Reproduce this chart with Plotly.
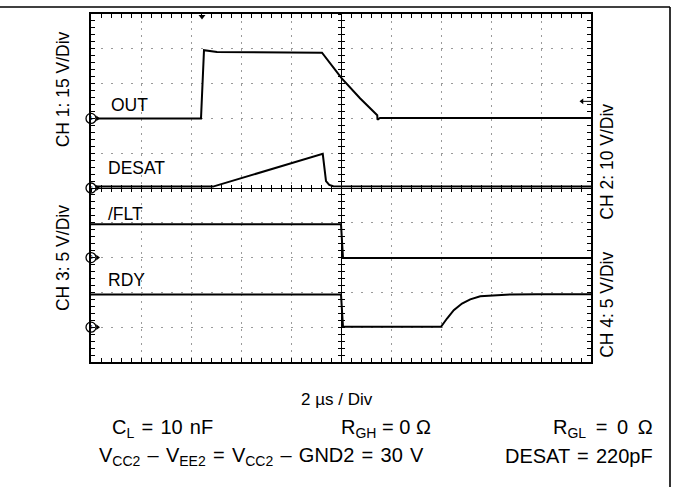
import plotly.graph_objects as go

# ---------------- data (time in µs, level in screen divisions) ----------------
out_t = [0.0, 4.40, 4.52, 5.04, 9.24, 10.03, 10.76, 11.23, 11.45, 11.46, 11.56, 20.0]
out_v = [7.0, 7.0, 8.96, 8.91, 8.89, 8.15, 7.58, 7.25, 7.09, 6.96, 7.01, 7.01]

desat_t = [0.0, 4.88, 9.27, 9.40, 9.53, 9.69, 20.0]
desat_v = [5.04, 5.04, 5.98, 5.20, 5.09, 5.05, 5.04]

flt_t = [0.0, 10.0, 10.08, 20.0]
flt_v = [3.96, 3.96, 2.99, 2.99]

rdy_t = [0.0, 10.0, 10.08, 14.0, 14.24, 14.51, 14.84, 15.17, 15.57, 16.11, 16.77, 17.84, 20.0]
rdy_v = [1.94, 1.94, 1.01, 1.01, 1.25, 1.49, 1.68, 1.80, 1.89, 1.92, 1.94, 1.95, 1.95]

ch_ref_levels = [7, 5, 3, 1]
ch_ref_names = ["1", "2", "3", "4"]
trigger_time = 4.44
trigger_level = 7.49

trace_labels = ["OUT", "DESAT", "/FLT", "RDY"]
axis_labels = ["CH 1: 15 V/Div", "CH 3: 5 V/Div", "CH 2: 10 V/Div", "CH 4: 5 V/Div"]

# ---------------- geometry helpers ----------------
W, H = 677, 487
L, R, T, B = 91, 591, 12, 362
def px(x):
    return (x - L) / (R - L)
def py(y):
    return (B - y) / (B - T)

FONT = "Liberation Sans, Arial, Helvetica, sans-serif"
fig = go.Figure()

line_style = dict(color="black", width=2)
for t, v in [(out_t, out_v), (desat_t, desat_v), (flt_t, flt_v), (rdy_t, rdy_v)]:
    fig.add_trace(go.Scatter(x=t, y=v, mode="lines", line=line_style,
                             hoverinfo="skip", showlegend=False))

# channel reference markers (circles with channel numbers + arrowheads)
fig.add_trace(go.Scatter(x=[0.0] * 4, y=ch_ref_levels, mode="markers",
                         marker=dict(symbol="circle", size=10, color="white",
                                     line=dict(width=1.3, color="black")),
                         cliponaxis=False, showlegend=False, hoverinfo="skip"))
fig.add_trace(go.Scatter(x=[0.0] * 4, y=ch_ref_levels, mode="text",
                         text=ch_ref_names, textposition="middle center",
                         textfont=dict(size=6, color="black", family=FONT),
                         cliponaxis=False, showlegend=False, hoverinfo="skip"))
fig.add_trace(go.Scatter(x=[0.26] * 4, y=ch_ref_levels, mode="markers",
                         marker=dict(symbol="triangle-right", size=5, color="black"),
                         cliponaxis=False, showlegend=False, hoverinfo="skip"))
# trigger markers
fig.add_trace(go.Scatter(x=[trigger_time], y=[9.93], mode="markers",
                         marker=dict(symbol="triangle-down", size=6, color="black"),
                         cliponaxis=False, showlegend=False, hoverinfo="skip"))
fig.add_trace(go.Scatter(x=[19.64, 20.0], y=[trigger_level, trigger_level], mode="lines",
                         line=dict(color="black", width=1),
                         cliponaxis=False, showlegend=False, hoverinfo="skip"))
fig.add_trace(go.Scatter(x=[19.64], y=[trigger_level], mode="markers",
                         marker=dict(symbol="triangle-left", size=5, color="black"),
                         cliponaxis=False, showlegend=False, hoverinfo="skip"))

# dummy traces to activate center-line axes
fig.add_trace(go.Scatter(x=[None], y=[None], xaxis="x2", yaxis="y2", showlegend=False))
fig.add_trace(go.Scatter(x=[None], y=[None], xaxis="x3", yaxis="y3", showlegend=False))

grid_col = "#9a9a9a"
common_x = dict(range=[0, 20], showticklabels=False, zeroline=False, fixedrange=True)
common_y = dict(range=[0, 10], showticklabels=False, zeroline=False, fixedrange=True)

fig.update_layout(
    width=W, height=H,
    margin=dict(l=L, r=W - R, t=T, b=H - B, pad=0),
    paper_bgcolor="white", plot_bgcolor="white",
    showlegend=False,
    font=dict(family=FONT, color="black"),
    xaxis=dict(**common_x, dtick=2, showgrid=True, gridcolor=grid_col, gridwidth=1,
               griddash="2px,5px", showline=True, linecolor="black", linewidth=2,
               mirror="ticks", ticks="inside", ticklen=4, tickcolor="black", tickwidth=1,
               minor=dict(dtick=0.4, ticks="inside", ticklen=4, tickcolor="black",
                          showgrid=False)),
    yaxis=dict(**common_y, dtick=1, showgrid=True, gridcolor=grid_col, gridwidth=1,
               griddash="2px,8px", showline=True, linecolor="black", linewidth=2,
               mirror="ticks", ticks="inside", ticklen=4, tickcolor="black", tickwidth=1,
               minor=dict(dtick=0.2, ticks="inside", ticklen=4, tickcolor="black",
                          showgrid=False)),
    xaxis2=dict(**common_x, overlaying="x", anchor="free", position=0.5, showgrid=False,
                showline=True, linecolor="black", linewidth=1, dtick=0.4,
                ticks="inside", ticklen=3, tickcolor="black", tickwidth=1),
    yaxis2=dict(**common_y, overlaying="y", anchor="free", position=0.5, showgrid=False,
                showline=True, linecolor="black", linewidth=1, dtick=0.2,
                ticks="inside", ticklen=3, tickcolor="black", tickwidth=1),
    xaxis3=dict(**common_x, overlaying="x", anchor="free", position=0.5, showgrid=False,
                showline=False, dtick=0.4,
                ticks="outside", ticklen=3, tickcolor="black", tickwidth=1),
    yaxis3=dict(**common_y, overlaying="y", anchor="free", position=0.5, showgrid=False,
                showline=False, dtick=0.2,
                ticks="outside", ticklen=3, tickcolor="black", tickwidth=1),
)

# outer frame (top and right edges)
fig.add_shape(type="line", xref="paper", yref="paper", x0=px(-2), x1=px(670), y0=py(5), y1=py(5),
              line=dict(color="black", width=1.6))
fig.add_shape(type="line", xref="paper", yref="paper", x0=px(670), x1=px(670), y0=py(5), y1=py(490),
              line=dict(color="black", width=1.6))

def ann(text, x, y, size, xanchor="left", yanchor="middle", angle=0):
    fig.add_annotation(text=text, xref="paper", yref="paper", x=px(x), y=py(y),
                       xanchor=xanchor, yanchor=yanchor, textangle=angle, showarrow=False,
                       font=dict(size=size, family=FONT, color="black"))

# trace labels
ann(trace_labels[0], 109, 103.5, 17.5)
ann(trace_labels[1], 106, 166.7, 17.5)
ann(trace_labels[2], 106, 212.7, 17.5)
ann(trace_labels[3], 106, 279.7, 17.5)

# channel scale labels
ann(axis_labels[0], 62.5, 88.3, 17.5, xanchor="center", angle=-90)
ann(axis_labels[1], 62.5, 258, 17.5, xanchor="center", angle=-90)
ann(axis_labels[2], 607.5, 161, 17.5, xanchor="center", angle=-90)
ann(axis_labels[3], 607.5, 305, 17.5, xanchor="center", angle=-90)

# footer text
hs = " \u200a"          # space + hair space
ts = " \u2009"          # space + thin space
ann("2 µs / Div", 337, 400, 17, xanchor="center")
ann(f"C<sub>L</sub>{hs}={hs}10{hs}nF", 110, 429, 20)
ann("R<sub>GH</sub> = 0 Ω", 339, 429, 20)
ann(f"R<sub>GL</sub>{ts}={ts}0{ts}Ω", 655, 429, 20, xanchor="right")
ann(f"V<sub>CC2</sub>{hs}–{hs}V<sub>EE2</sub>{hs}={hs}V<sub>CC2</sub>{hs}–{hs}GND2{hs}={hs}30{hs}V",
    97, 457, 20)
ann(f"DESAT{hs}={hs}220pF", 655, 457, 20, xanchor="right")

fig.write_html("out.html", config={"displayModeBar": False},
               post_script="document.body.style.margin='0';document.body.style.overflow='hidden';")
